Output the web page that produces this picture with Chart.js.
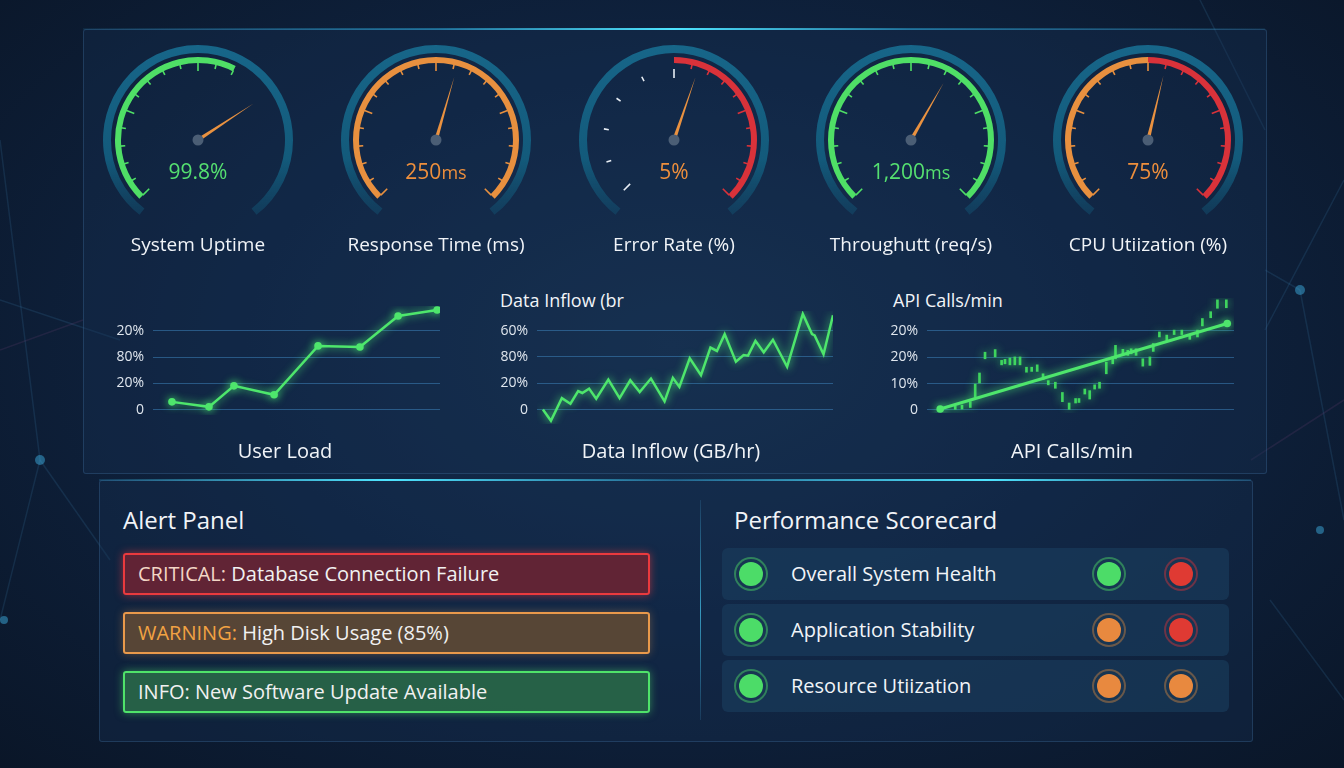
<!DOCTYPE html>
<html>
<head>
<meta charset="utf-8" />
<script src="https://cdn.jsdelivr.net/npm/chart.js@4.4.0/dist/chart.umd.min.js"></script>
<title>Performance dashboard</title>
<style>
  body { margin: 0; width: 1344px; height: 768px; overflow: hidden; position: relative;
         font-family: "Open Sans", "Noto Sans", sans-serif; color: #e8eef5;
         background: radial-gradient(ellipse at 50% 45%, #16304f 0%, #0f2340 45%, #0a1628 100%); }
  .abs { position: absolute; }
  .panel { position: absolute; border: 1px solid rgba(80,140,190,0.25); border-radius: 3px;
           background: rgba(22,50,82,0.35); }
  .glowline { position: absolute; height: 2px; }
  .gval { position: absolute; width: 200px; text-align: center; font-size: 21px; }
  .gval small { font-size: 18px; }
  .glabel { position: absolute; width: 240px; text-align: center; font-size: 19px; color: #f1f4f8; }
  .ctitle { position: absolute; font-size: 18px; color: #f1f4f8; }
  .clabel { position: absolute; width: 300px; text-align: center; font-size: 20px; color: #f1f4f8; }
  .h2 { position: absolute; font-size: 24px; color: #f1f4f8; }
  .alert { position: absolute; left: 123px; width: 510px; height: 38px; border: 2px solid; border-radius: 3px;
           font-size: 20px; line-height: 38px; padding-left: 13px; color: #f1f1f1; }
  .row { position: absolute; left: 722px; width: 507px; height: 52px; border-radius: 6px; background: rgba(26,62,94,0.62); }
  .row span { position: absolute; left: 69px; top: 0; line-height: 52px; font-size: 20px; color: #f1f4f8; }
  .dot { position: absolute; width: 24px; height: 24px; border-radius: 50%; top: 14px; }
  canvas { position: absolute; }
</style>
</head>
<body>
<svg class="abs" style="left:0;top:0" width="1344" height="768">
  <g stroke="rgba(70,140,190,0.16)" stroke-width="1.5" fill="none">
    <line x1="0" y1="140" x2="40" y2="460"/>
    <line x1="40" y1="460" x2="0" y2="620"/>
    <line x1="40" y1="460" x2="110" y2="560"/>
    <line x1="0" y1="300" x2="120" y2="340"/>
    <line x1="1344" y1="180" x2="1265" y2="330"/>
    <line x1="1300" y1="290" x2="1344" y2="520"/>
    <line x1="1300" y1="290" x2="1265" y2="270"/>
    <line x1="1270" y1="600" x2="1344" y2="700"/>
    <line x1="1200" y1="0" x2="1265" y2="130"/>
  </g>
  <g stroke="rgba(150,80,140,0.15)" stroke-width="1.5">
    <line x1="0" y1="350" x2="83" y2="320"/>
    <line x1="1251" y1="460" x2="1344" y2="400"/>
  </g>
  <g fill="rgba(60,170,220,0.5)">
    <circle cx="40" cy="460" r="5"/>
    <circle cx="1300" cy="290" r="5"/>
    <circle cx="1320" cy="530" r="4"/>
    <circle cx="4" cy="620" r="4"/>
  </g>
</svg>

<div class="panel" style="left:83px;top:29px;width:1182px;height:443px"></div>
<div class="glowline" style="left:83px;top:28px;width:1182px;background:linear-gradient(90deg,rgba(40,160,210,0.1),rgba(40,170,220,0.5) 30%,#4fe4ff 50%,rgba(40,170,220,0.5) 70%,rgba(40,160,210,0.1))"></div>
<div class="panel" style="left:99px;top:480px;width:1152px;height:260px"></div>
<div class="glowline" style="left:99px;top:479px;width:1152px;background:linear-gradient(90deg,rgba(40,160,210,0.2),#4fe4ff 25%,rgba(40,170,220,0.35) 50%,#4fe4ff 77%,rgba(40,160,210,0.2))"></div>
<div class="abs" style="left:700px;top:500px;width:1px;height:220px;background:linear-gradient(180deg,rgba(60,140,190,0.2),rgba(70,200,240,0.7),rgba(60,140,190,0.2))"></div>

<div id="gauges"></div>

<div class="ctitle" style="left:500px;top:288px">Data Inflow (br</div>
<div class="ctitle" style="left:893px;top:288px">API Calls/min</div>
<canvas id="userLoad"></canvas>
<canvas id="dataInflow"></canvas>
<canvas id="apiCalls"></canvas>
<div class="clabel" style="left:135px;top:437px">User Load</div>
<div class="clabel" style="left:521px;top:437px">Data Inflow (GB/hr)</div>
<div class="clabel" style="left:922px;top:437px">API Calls/min</div>

<div class="h2" style="left:123px;top:503px">Alert Panel</div>
<div id="alerts"></div>
<div class="h2" style="left:734px;top:503px">Performance Scorecard</div>
<div id="scorecard"></div>

<script>
// ---- gauges ----
var gaugeLabels = ["System Uptime", "Response Time (ms)", "Error Rate (%)", "Throughutt (req/s)", "CPU Utiization (%)"];
var gaugeNumbers = ["99.8", "250", "5", "1,200", "75"];
var gaugeUnits = ["%", "ms", "%", "ms", "%"];
var gaugeLevels = ["ok", "warn", "warn", "ok", "warn"];
var gaugeNeedle = [0.71, 0.56, 0.57, 0.61, 0.55];   // share of the 270 degree dial
var gaugeBandEnds = [[0.60], [1], [0.5, 1], [1], [0.5, 1]];
var gaugeBandLevels = [["ok"], ["warn"], ["none", "crit"], ["ok"], ["warn", "crit"]];
var gaugeCenters = [198, 436, 674, 911, 1148];

// ---- line charts ----
var userLoadX = [6.6, 19.5, 28.2, 42.2, 57.5, 72.1, 85.4, 99];
var userLoadY = [0.30, 0.11, 0.91, 0.57, 2.43, 2.39, 3.57, 3.80];
var userLoadTicks = ["0", "20%", "80%", "20%"];

var inflowX = [2.0, 4.7, 8.4, 11.3, 13.9, 15.3, 17.6, 20.0, 24.1, 27.9, 31.5, 34.7, 38.5, 43.1, 45.9, 48.1, 51.6,
               55.4, 58.6, 60.8, 63.4, 67.2, 69.8, 71.3, 73.8, 76.6, 79.7, 84.5, 89.8, 92.9, 93.8, 96.8, 100];
var inflowY = [0, -8.5, 8.7, 4.4, 14.1, 12.6, 15.9, 8.2, 22.8, 8.7, 22.3, 13.3, 23.6, 6.2, 24.1, 17.2, 39.0,
               26.2, 47.2, 44.6, 57.4, 36.4, 41.5, 41.0, 52.3, 43.6, 53.1, 32.6, 72.8, 57.4, 56.4, 42.1, 71.8];
var inflowTicks = ["0", "20%", "80%", "60%"];

var apiTrendX = [4.3, 97.8];
var apiTrendY = [0.03, 3.28];
var apiBarX = [9.2, 11.4, 14.1, 15.7, 17.1, 18.9, 22.2, 24.3, 25.4, 27.0, 28.6, 30.3, 32.4, 34.1, 35.9, 37.8, 39.5,
               41.8, 44.1, 46.3, 48.4, 49.5, 51.4, 53.0, 54.6, 56.2, 58.4, 60.5, 61.4, 63.8, 65.4, 66.5, 68.1,
               70.3, 72.6, 73.7, 75.7, 78.1, 80.5, 83.0, 85.6, 88.1, 89.7, 92.4, 94.6, 97.5];
var apiBarLow = [0, 0.03, 0.09, 0.47, 1.02, 1.94, 2.01, 1.71, 1.75, 1.71, 1.71, 1.71, 1.43, 1.46, 1.46, 1.15, 0.95,
                 0.82, 0.31, 0, 0.26, 0.28, 0.60, 0.41, 0.79, 0.82, 1.37, 1.75, 1.94, 2.09, 2.07, 2.13, 2.07,
                 1.66, 1.69, 2.22, 2.77, 2.64, 2.86, 2.86, 2.68, 2.77, 3.19, 3.50, 3.86, 3.88];
var apiBarHigh = [0.15, 0.18, 0.31, 0.98, 1.40, 2.19, 2.29, 1.88, 1.92, 1.97, 2.01, 2.01, 1.62, 1.62, 1.71, 1.37, 1.11,
                  1.05, 0.66, 0.26, 0.43, 0.43, 0.79, 0.73, 0.95, 1.05, 1.81, 2.01, 2.45, 2.30, 2.26, 2.32, 2.32,
                  1.94, 2.01, 2.52, 2.96, 2.84, 3.03, 3.03, 2.84, 3.03, 3.47, 3.73, 4.18, 4.18];
var apiTicks = ["0", "10%", "20%", "20%"];

// ---- panels ----
var alertLevels = ["crit", "warn", "info"];
var alertTags = ["CRITICAL:", "WARNING:", "INFO:"];
var alertTexts = [" Database Connection Failure", " High Disk Usage (85%)", " New Software Update Available"];

var scoreNames = ["Overall System Health", "Application Stability", "Resource Utiization"];
var scoreStatus = [["ok", "ok", "crit"], ["ok", "warn", "crit"], ["ok", "warn", "warn"]];

// colours
var levelColor = { ok: "#4fdf66", warn: "#e8903f", crit: "#d9323a", none: "transparent", info: "#4fdf66" };
var textColor = { ok: "#55e070", warn: "#ee8f3c" };

// outer ring fades towards the bottom
function ringFill(c) {
  var ch = c.chart;
  if (c.dataIndex == 1) return "transparent";
  var g = ch.ctx.createLinearGradient(0, 0, 0, ch.height);
  g.addColorStop(0, "#176689");
  g.addColorStop(0.6, "#135a7b");
  g.addColorStop(1, "rgba(19,80,112,0.25)");
  return g;
}

// --- gauge ticks + needle
var gaugeDecor = {
  id: "gaugeDecor",
  afterDatasetsDraw: function (chart) {
    var i = chart.options.plugins.gaugeDecor.index;
    var arc = chart.getDatasetMeta(2).data[0];
    var cx = arc.x, cy = arc.y, r = arc.innerRadius;
    var ctx = chart.ctx;
    var ends = gaugeBandEnds[i], lev = gaugeBandLevels[i];
    ctx.save();
    for (var t = 0; t <= 20; t++) {
      var f = t / 20;
      if (f > ends[ends.length - 1] + 1e-6) continue;
      var b = 0;
      while (b < ends.length - 1 && f > ends[b] + 1e-6) b++;
      var level = lev[b];
      if (level == "none" && t % 2 == 1) continue;
      var a = (-135 + f * 270 - 90) * Math.PI / 180;
      var len = (t % 5 == 0) ? 9 : 5;
      var r0 = level == "none" ? r - 6 : r + 1;
      ctx.strokeStyle = level == "none" ? "#e8eef5" : levelColor[level];
      ctx.lineWidth = 1.6;
      ctx.beginPath();
      ctx.moveTo(cx + Math.cos(a) * r0, cy + Math.sin(a) * r0);
      ctx.lineTo(cx + Math.cos(a) * (r0 - len), cy + Math.sin(a) * (r0 - len));
      ctx.stroke();
    }
    // needle
    var na = (-135 + gaugeNeedle[i] * 270 - 90) * Math.PI / 180;
    var L = 66;
    var px = -Math.sin(na), py = Math.cos(na);
    ctx.fillStyle = "#ea9240";
    ctx.beginPath();
    ctx.moveTo(cx + px * 1.8, cy + py * 1.8);
    ctx.lineTo(cx + Math.cos(na) * L, cy + Math.sin(na) * L);
    ctx.lineTo(cx - px * 1.8, cy - py * 1.8);
    ctx.closePath();
    ctx.fill();
    ctx.fillStyle = "#4b5e75";
    ctx.beginPath();
    ctx.arc(cx, cy, 5.5, 0, Math.PI * 2);
    ctx.fill();
    ctx.restore();
  }
};

var gWrap = document.getElementById("gauges");
gaugeCenters.forEach(function (cx, i) {
  var c = document.createElement("canvas");
  c.width = 190; c.height = 190;
  c.style.left = (cx - 95) + "px"; c.style.top = "45px";
  gWrap.appendChild(c);

  var segs = [], cols = [], prev = 0;
  gaugeBandEnds[i].forEach(function (e, k) {
    segs.push((e - prev) * 270);
    cols.push(levelColor[gaugeBandLevels[i][k]]);
    prev = e;
  });
  segs.push(360 - prev * 270);
  cols.push("transparent");

  new Chart(c, {
    type: "doughnut",
    data: {
      datasets: [
        { data: [284, 76], backgroundColor: ringFill, rotation: -142, weight: 8 },
        { data: [360], backgroundColor: ["transparent"], weight: 4 },
        { data: segs, backgroundColor: cols, rotation: -135, weight: 6 }
      ]
    },
    options: {
      responsive: false, animation: false, cutout: 77,
      borderWidth: 0, hoverOffset: 0,
      events: [],
      plugins: { legend: { display: false }, tooltip: { enabled: false }, gaugeDecor: { index: i } }
    },
    plugins: [gaugeDecor]
  });

  var v = document.createElement("div");
  v.className = "gval";
  v.style.left = (cx - 100) + "px"; v.style.top = "157px";
  v.style.color = textColor[gaugeLevels[i]];
  v.innerHTML = gaugeNumbers[i] + (gaugeUnits[i] == "ms" ? "<small>ms</small>" : gaugeUnits[i]);
  gWrap.appendChild(v);

  var l = document.createElement("div");
  l.className = "glabel";
  l.style.left = (cx - 120) + "px"; l.style.top = "231px";
  l.textContent = gaugeLabels[i];
  gWrap.appendChild(l);
});

// --- glow for lines
var glow = {
  id: "glow",
  beforeDatasetDraw: function (chart) {
    chart.ctx.save();
    chart.ctx.shadowColor = "rgba(80,255,120,0.85)";
    chart.ctx.shadowBlur = 9;
  },
  afterDatasetDraw: function (chart) { chart.ctx.restore(); }
};

function lineChart(id, gridLeft, gridRight, zeroY, ppu, min, max, tickLabels, tickValues, datasets, type) {
  var c = document.getElementById(id);
  var padTop = 24, padBottom = 24;
  c.width = gridRight - gridLeft + 50 + 4;
  c.height = Math.round((max - min) * ppu) + padTop + padBottom;
  c.style.left = (gridLeft - 50) + "px";
  c.style.top = Math.round(zeroY - max * ppu - padTop) + "px";
  return new Chart(c, {
    type: type || "line",
    data: { datasets: datasets },
    options: {
      responsive: false, animation: false, events: [],
      layout: { padding: { top: padTop, bottom: padBottom, left: 0, right: 4 } },
      plugins: { legend: { display: false }, tooltip: { enabled: false } },
      scales: {
        x: { type: "linear", min: 0, max: 100, display: false, offset: false },
        y: {
          min: min, max: max,
          afterBuildTicks: function (s) { s.ticks = tickValues.map(function (v) { return { value: v }; }); },
          afterFit: function (s) { s.width = 50; },
          ticks: { color: "#dfe6ee", font: { size: 14, family: "Open Sans" }, padding: 9,
                   callback: function (v, idx) { return tickLabels[idx]; } },
          grid: { color: "rgba(60,130,185,0.55)", drawTicks: false, lineWidth: 1 },
          border: { display: false }
        }
      }
    },
    plugins: [glow]
  });
}

var green = "#4ee66c";
lineChart("userLoad", 153, 440, 410, 79 / 3, -0.2, 3.95, userLoadTicks, [0, 1, 2, 3], [{
  data: userLoadX.map(function (x, i) { return { x: x, y: userLoadY[i] }; }),
  borderColor: green, borderWidth: 2.5, pointRadius: 3.8, pointBackgroundColor: green, pointBorderWidth: 0, tension: 0
}]);

lineChart("dataInflow", 537, 833, 410, 79 / 60, -11, 75, inflowTicks, [0, 20, 40, 60], [{
  data: inflowX.map(function (x, i) { return { x: x, y: inflowY[i] }; }),
  borderColor: green, borderWidth: 2.5, pointRadius: 0, tension: 0
}]);

lineChart("apiCalls", 927, 1234, 410, 79 / 3, -0.12, 4.25, apiTicks, [0, 1, 2, 3], [
  {
    type: "line",
    data: apiTrendX.map(function (x, i) { return { x: x, y: apiTrendY[i] }; }),
    borderColor: green, borderWidth: 3, pointRadius: 3.8, pointBackgroundColor: green, pointBorderWidth: 0
  },
  {
    type: "bar",
    data: apiBarX.map(function (x, i) { return { x: x, y: [apiBarLow[i], apiBarHigh[i]] }; }),
    backgroundColor: "#3fd45e", barThickness: 2
  }
], "bar");

// --- alert panel
var alertStyle = {
  crit: { border: "#ea3a3e", bg: "rgba(104,36,52,0.92)", tag: "#f3d6c6", glow: "rgba(234,58,62,0.6)" },
  warn: { border: "#e9994b", bg: "rgba(92,72,54,0.95)", tag: "#f2a243", glow: "rgba(233,153,75,0.35)" },
  info: { border: "#4fe36a", bg: "rgba(40,100,72,0.95)", tag: "#f1f1f1", glow: "rgba(79,227,106,0.5)" }
};
var aWrap = document.getElementById("alerts");
alertLevels.forEach(function (lv, i) {
  var st = alertStyle[lv];
  var d = document.createElement("div");
  d.className = "alert";
  d.style.top = (553 + i * 59) + "px";
  d.style.borderColor = st.border;
  d.style.background = st.bg;
  d.style.boxShadow = "0 0 9px " + st.glow;
  d.innerHTML = '<span style="color:' + st.tag + '">' + alertTags[i] + '</span>' + alertTexts[i];
  aWrap.appendChild(d);
});

// --- scorecard
var sWrap = document.getElementById("scorecard");
var dotX = [17, 375, 447];
var dotRing = { ok: "rgba(79,223,102,0.45)", warn: "rgba(232,144,63,0.4)", crit: "rgba(217,50,58,0.45)" };
var dotFill = { ok: "#4cdc68", warn: "#e8893f", crit: "#df3a33" };
scoreNames.forEach(function (name, i) {
  var r = document.createElement("div");
  r.className = "row";
  r.style.top = (548 + i * 56) + "px";
  var html = "<span>" + name + "</span>";
  scoreStatus[i].forEach(function (s, k) {
    html += '<div class="dot" style="left:' + dotX[k] + 'px;background:' + dotFill[s] +
            ';box-shadow:0 0 0 3px #173552,0 0 0 5px ' + dotRing[s] + '"></div>';
  });
  r.innerHTML = html;
  sWrap.appendChild(r);
});
</script>
</body>
</html>
